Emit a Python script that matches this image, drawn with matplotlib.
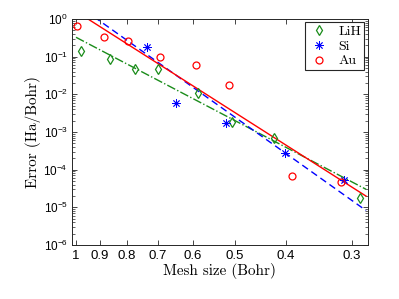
import numpy as np
import matplotlib
matplotlib.use('Agg')
import matplotlib.pyplot as plt
from matplotlib.ticker import LogLocator, FixedLocator, NullLocator, NullFormatter

plt.rcParams['font.family'] = ['Liberation Sans', 'DejaVu Sans']
plt.rcParams['mathtext.default'] = 'regular'

# values: mesh size (Bohr), error (Ha/Bohr)
lih_h = [0.978, 0.862, 0.773, 0.700, 0.588, 0.507, 0.421, 0.290]
lih_err = [0.14, 0.088, 0.048, 0.048, 0.0107, 0.00188, 7.1e-4, 1.8e-5]

si_h = [0.732, 0.645, 0.520, 0.402, 0.310]
si_err = [0.18, 0.0058, 0.00173, 2.8e-4, 5.3e-5]

au_h = [0.997, 0.885, 0.797, 0.694, 0.593, 0.514, 0.390, 0.315]
au_err = [0.65, 0.327, 0.265, 0.096, 0.060, 0.0177, 6.8e-5, 4.8e-5]

# fitted power laws err = c * h^p
lih_fit = (0.326, 7.34)
si_fit = (2.49, 9.97)
au_fit = (1.59, 8.92)
fit_h = np.array([1.0, 0.282])

x_ticks = [1, 0.9, 0.8, 0.7, 0.6, 0.5, 0.4, 0.3]
x_labels = ['1', '0.9', '0.8', '0.7', '0.6', '0.5', '0.4', '0.3']

green = (0.1, 0.55, 0.1)
blue = (0, 0, 1)
red = (1, 0, 0)
axcol = (0.15, 0.15, 0.15)

fig = plt.figure(figsize=(3.99, 2.99), dpi=100)
ax = fig.add_axes([0.1805, 0.1806, 0.741, 0.756])

ax.plot(fit_h, lih_fit[0] * fit_h ** lih_fit[1], color=green, ls='-.', lw=1.0)
ax.plot(fit_h, si_fit[0] * fit_h ** si_fit[1], color=blue, ls=(0, (5, 3)), lw=1.0)
ax.plot(fit_h, au_fit[0] * fit_h ** au_fit[1], color=red, ls='-', lw=1.0)

ax.plot(lih_h, lih_err, ls='none', marker='d', ms=5.2, mfc='none', mec=green,
        mew=0.9, label='LiH')
ax.plot(si_h, si_err, ls='none', marker=(8, 2, 0), ms=6, mec=blue, mew=0.6,
        label='Si')
ax.plot(au_h, au_err, ls='none', marker='o', ms=5, mfc='none', mec=red,
        mew=0.9, label='Au')

ax.set_xscale('log')
ax.set_yscale('log')
ax.set_xlim(1.0176, 0.280)
ax.set_ylim(1e-6, 1e0)

ax.xaxis.set_major_locator(FixedLocator(x_ticks))
ax.set_xticklabels(x_labels)
ax.xaxis.set_minor_locator(NullLocator())
ax.xaxis.set_minor_formatter(NullFormatter())
ax.yaxis.set_major_locator(LogLocator(base=10, numticks=10))
ax.yaxis.set_minor_locator(LogLocator(base=10, subs=np.arange(2, 10), numticks=10))
ax.yaxis.set_minor_formatter(NullFormatter())

ax.tick_params(which='both', direction='in', top=True, right=True, colors=axcol)
ax.tick_params(which='major', length=3.5, width=0.6, labelsize=9.5, labelcolor='black')
ax.tick_params(which='minor', length=2, width=0.5)
ax.tick_params(axis='y', labelsize=8.5, pad=3)
for s in ax.spines.values():
    s.set_color(axcol)
    s.set_linewidth(0.7)

ax.set_xlabel('Mesh size (Bohr)', family='cmr10', fontsize=10.9, labelpad=1)
ax.set_ylabel('Error (Ha/Bohr)', family='cmr10', fontsize=10.9, labelpad=2)

leg = ax.legend(loc='upper right', bbox_to_anchor=(0.9875, 0.985), borderaxespad=0,
                prop={'family': 'cmr10', 'size': 10}, fancybox=False,
                handlelength=1.6, handletextpad=0.6, borderpad=0.2,
                labelspacing=0.15, edgecolor=axcol, framealpha=1)
leg.get_frame().set_linewidth(0.8)

fig.savefig('out.png', dpi=100)
